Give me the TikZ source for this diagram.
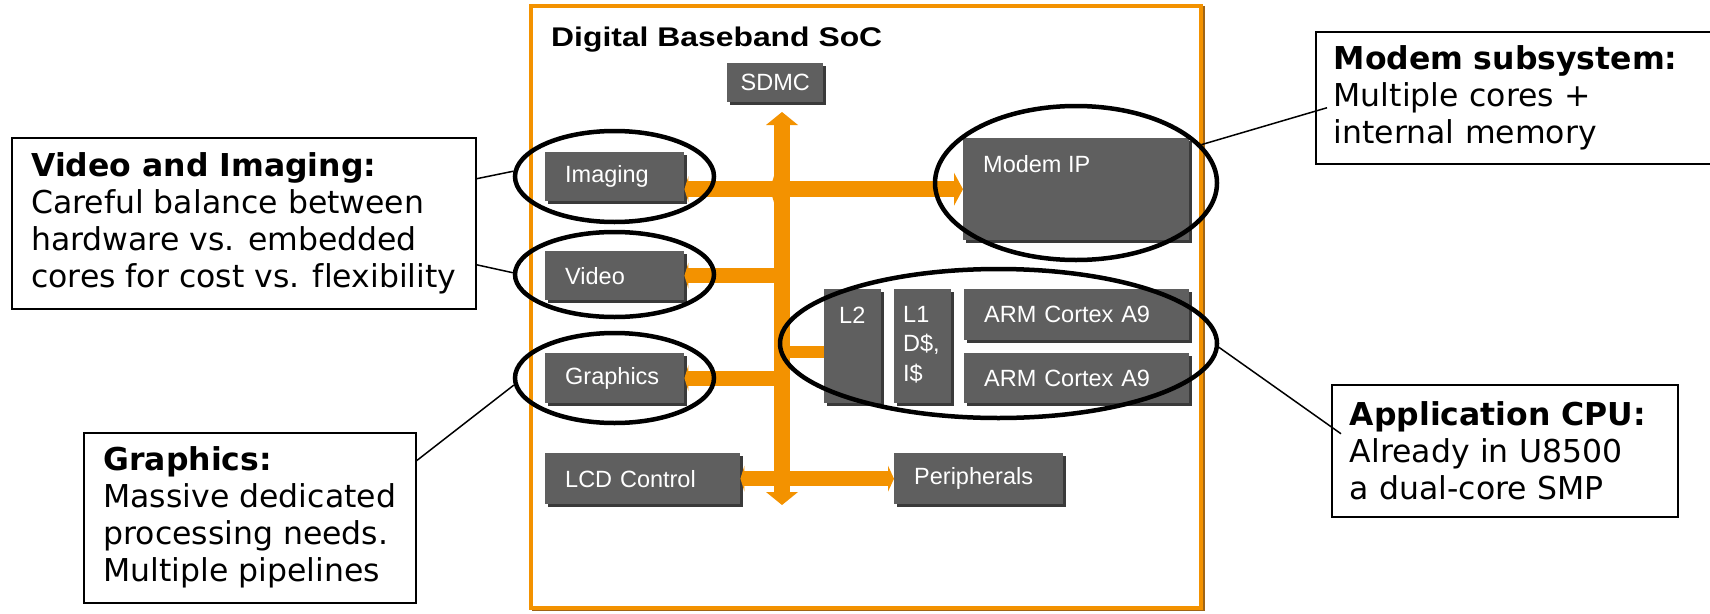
\documentclass[tikz,border=0pt]{standalone}
\usepackage{fontspec}
\usepackage{graphicx}
\setmainfont{Liberation Sans}
\newfontfamily\dejavu[Ligatures=NoCommon]{DejaVu Sans}
\usetikzlibrary{arrows.meta,shapes.geometric,shadows,calc}
\definecolor{busor}{RGB}{243,146,0}
\definecolor{boxgr}{RGB}{95,95,95}
\definecolor{shgr}{RGB}{58,58,58}
\definecolor{frsh}{RGB}{160,100,20}
\tikzset{
  busHead/.tip={Triangle[length=13pt,width=32pt,line width=0pt]},
  modHead/.tip={Triangle[length=9pt,width=33pt,line width=0pt]},
  crossHead/.tip={Triangle[length=5pt,width=33pt,line width=0pt]},
  notchHead/.tip={Triangle[length=4pt,width=26pt,line width=0pt]},
  perHead/.tip={Triangle[length=6pt,width=26pt,line width=0pt]},
}
\begin{document}
\begin{tikzpicture}[x=1pt,y=-1pt,
  blk/.style={fill=boxgr, inner sep=0pt, anchor=north west, text=white,
    font=\fontsize{23.5}{28}\selectfont,
    drop shadow={shadow xshift=3pt,shadow yshift=-3pt,fill=shgr,opacity=1}},
  blkl/.style={blk, inner xsep=20pt, align=left},
  btxt/.style={text=white, font=\fontsize{23.5}{29.5}\selectfont, inner sep=0pt, align=left},
  busbar/.style={draw=busor, line width=#1},
  ring/.style={ellipse, draw=black, line width=4.5pt, inner sep=0pt},
  callout/.style={draw=black, line width=1.5pt, fill=white, anchor=north west, align=left,
    inner xsep=18pt, inner ysep=0pt, font=\dejavu\fontsize{31.5}{37}\selectfont},
  lead/.style={draw=black, line width=1.5pt},
]
\path[use as bounding box] (0,0) rectangle (1710,613);
\clip (0,0) rectangle (1710,613);
\fill[white] (0,0) rectangle (1710,613);

% SoC frame
\node[draw=frsh, line width=3pt, minimum width=670pt, minimum height=602pt, inner sep=0pt] (socsh) at (868.5,308.5) {};
\node[draw=busor, line width=4pt, fill=white, minimum width=670pt, minimum height=602pt, inner sep=0pt] (soc) at (866,307) {};
\node[anchor=base west, inner sep=0pt] (title) at (551,46)
  {\scalebox{1.18}[1]{\bfseries\fontsize{27}{30}\selectfont Digital Baseband SoC}};

% blocks
\node[blk, minimum width=96pt, minimum height=39pt] (sdmc) at (727,63) {SDMC};
\node[blkl, text width=99pt, minimum height=49pt] (img) at (545,152) {Imaging};
\node[blkl, text width=99pt, minimum height=49pt] (vid) at (545,251) {Video};
\node[blkl, text width=99pt, minimum height=50pt] (gfx) at (545,353) {Graphics};
\node[blkl, text width=155pt, minimum height=51pt] (lcd) at (545,453) {LCD Control};
\node[blkl, text width=129pt, minimum height=51pt] (per) at (894,453) {Peripherals};
\node[blk, minimum width=226pt, minimum height=102pt] (mdm) at (963,138) {};
\node[btxt, anchor=base west] (mdmt) at (983,172) {Modem IP};
\node[blk, minimum width=57pt, minimum height=114pt] (l2) at (824,289) {};
\node[btxt, anchor=base west] (l2t) at (839,323) {L2};
\node[blk, minimum width=57pt, minimum height=114pt] (l1) at (894,289) {};
\node[btxt, anchor=north west] (l1t) at (903,306) {L1\\D\$,\\I\$};
\node[blkl, text width=185pt, minimum height=51pt] (arm1) at (964,289) {ARM Cortex A9};
\node[blkl, text width=185pt, minimum height=50pt] (arm2) at (964,353) {ARM Cortex A9};

% bus
\coordinate (busT) at (782,112);
\coordinate (busB) at (782,505);
\draw[busbar=16pt, {notchHead}-] ($(img.east)+(0,12.5)$) -- (busT |- mdm.west);
\draw[busbar=16pt, {crossHead}-{modHead}] ($(mdm.west)+(-193,0)$) -- (mdm.west);
\draw[busbar=15pt, {notchHead}-] (vid.east) -- (vid.east -| busT);
\draw[busbar=15pt, {notchHead}-] (gfx.east) -- (gfx.east -| busT);
\draw[busbar=12pt] ($(l2.west)+(0,6)$) -- ($(l2.west)+(-42,6)$);
\draw[busbar=15pt, {notchHead}-{perHead}] (lcd.east) -- (per.west);
\draw[busbar=16pt, {busHead}-{busHead}] (busT) -- (busB);

% rings
\node[ring, minimum width=199pt, minimum height=91pt] (imgE) at (614.5,176.5) {};
\node[ring, minimum width=199pt, minimum height=85pt] (vidE) at (614.5,274.5) {};
\node[ring, minimum width=199pt, minimum height=90pt] (gfxE) at (614.5,378) {};
\node[ring, minimum width=282pt, minimum height=154pt] (mdmE) at (1076,183) {};
\node[ring, minimum width=437pt, minimum height=149pt] (cpuE) at (998.5,343.5) {};

% callouts
\node[callout, minimum width=464pt, minimum height=171pt] (vical) at (11,137)
  {\textbf{Video and Imaging:}\\Careful balance between\\hardware vs. embedded\\cores for cost vs. flexibility};
\node[callout, minimum width=332pt, minimum height=170pt] (gcal) at (83,432)
  {\textbf{Graphics:}\\Massive dedicated\\processing needs.\\Multiple pipelines};
\node[callout, text width=380pt, minimum height=132pt] (mcal) at (1315,31)
  {\textbf{Modem subsystem:}\\Multiple cores +\\internal memory};
\node[callout, text width=310pt, minimum height=132pt] (acal) at (1331,384)
  {\textbf{Application CPU:}\\Already in U8500\\a dual-core SMP};

% leaders
\draw[lead] ($(vical.east)+(0,-44.5)$) -- (imgE.177);
\draw[lead] ($(vical.east)+(0,41.5)$) -- (vidE.179);
\draw[lead] ($(gcal.east)+(0,-57)$) -- (gfxE.184);
\draw[lead] (mdmE.17) -- ($(mcal.west)+(12,10)$);
\draw[lead] (cpuE.-1) -- ($(acal.west)+(10,-17)$);
\end{tikzpicture}
\end{document}
